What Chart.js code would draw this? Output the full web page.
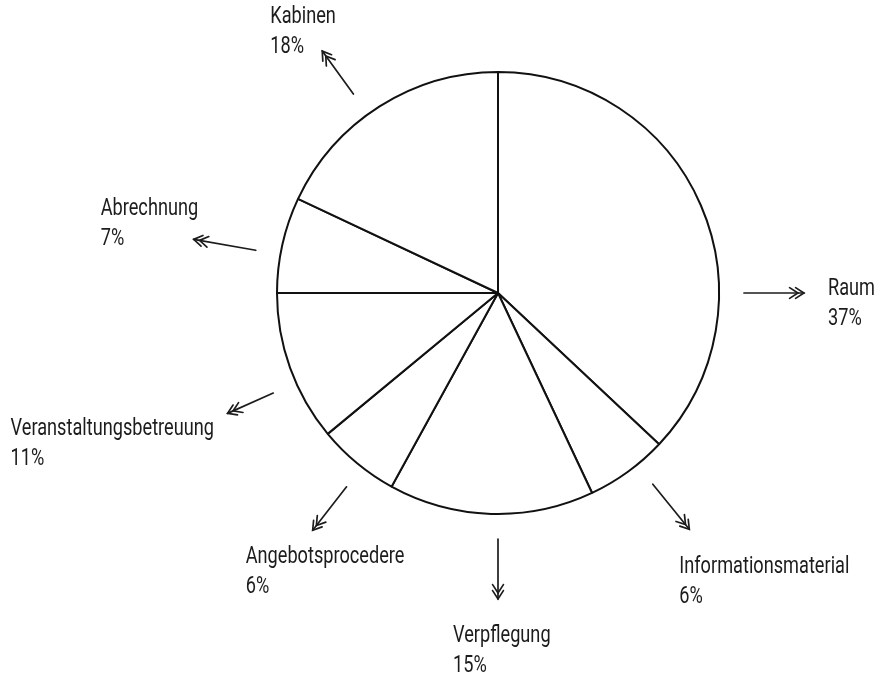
<!DOCTYPE html>
<html>
<head>
<meta charset="utf-8">
<script src="https://cdn.jsdelivr.net/npm/chart.js@4/dist/chart.umd.min.js"></script>
<style>
  html, body { margin: 0; padding: 0; background: #fff; }
  #wrap { width: 878px; height: 674px; }
</style>
</head>
<body>
<div id="wrap"><canvas id="pie"></canvas></div>
<script>
// Anteile im Uhrzeigersinn ab 12 Uhr
const categories = ['Raum', 'Informationsmaterial', 'Verpflegung', 'Angebotsprocedere',
                    'Veranstaltungsbetreuung', 'Abrechnung', 'Kabinen'];
const shares = [37, 6, 15, 6, 11, 7, 18];

// Beschriftung: Richtung des Pfeils (Grad, im Uhrzeigersinn ab 3 Uhr) und Textversatz zur Pfeilspitze
const calloutLayout = [
  { angle: 0,   len: 60, dx: 24,   dy: 2 },
  { angle: 51,  len: 58, dx: -10,  dy: 44 },
  { angle: 90,  len: 60, dx: -45,  dy: 43 },
  { angle: 128, len: 55, dx: -67,  dy: 33 },
  { angle: 156, len: 50, dx: -217, dy: 22 },
  { angle: 190, len: 63, dx: -93,  dy: -24 },
  { angle: 234, len: 53, dx: -52,  dy: -28 }
];

const INK = '#1c1c1c';
const TEXT_SQUEEZE = 0.79; // schmale Schrift nachbilden

// Doppelte offene Pfeilspitze
function chevrons(ctx, x, y, a) {
  const arm = 10, spread = Math.PI / 5.5, gap = 6;
  for (let k = 0; k < 2; k++) {
    const tx = x - Math.cos(a) * gap * k;
    const ty = y - Math.sin(a) * gap * k;
    ctx.beginPath();
    ctx.moveTo(tx - arm * Math.cos(a - spread), ty - arm * Math.sin(a - spread));
    ctx.lineTo(tx, ty);
    ctx.lineTo(tx - arm * Math.cos(a + spread), ty - arm * Math.sin(a + spread));
    ctx.stroke();
  }
}

function narrowText(ctx, str, x, y) {
  ctx.save();
  ctx.translate(x, y);
  ctx.scale(TEXT_SQUEEZE, 1);
  ctx.fillText(str, 0, 0);
  ctx.restore();
}

const calloutPlugin = {
  id: 'callouts',
  afterDatasetsDraw(chart, args, opts) {
    const ctx = chart.ctx;
    const arc = chart.getDatasetMeta(0).data[0];
    const cx = arc.x, cy = arc.y, r = arc.outerRadius;
    ctx.save();
    ctx.strokeStyle = INK;
    ctx.fillStyle = INK;
    ctx.lineWidth = 1.7;
    ctx.lineCap = 'round';
    ctx.font = '23px Roboto, "Liberation Sans", sans-serif';
    ctx.textBaseline = 'alphabetic';
    ctx.textAlign = 'left';
    opts.layout.forEach((l, i) => {
      const a = l.angle * Math.PI / 180;
      const r0 = r + 25, r1 = r0 + l.len;
      const x0 = cx + Math.cos(a) * r0, y0 = cy + Math.sin(a) * r0;
      const x1 = cx + Math.cos(a) * r1, y1 = cy + Math.sin(a) * r1;
      ctx.beginPath();
      ctx.moveTo(x0, y0);
      ctx.lineTo(x1, y1);
      ctx.stroke();
      chevrons(ctx, x1, y1, a);
      const tx = x1 + l.dx, ty = y1 + l.dy;
      narrowText(ctx, categories[i], tx, ty);
      narrowText(ctx, shares[i] + '%', tx, ty + 30);
    });
    ctx.restore();
  }
};

new Chart(document.getElementById('pie'), {
  type: 'pie',
  data: {
    labels: categories,
    datasets: [{
      data: shares,
      backgroundColor: '#fff',
      borderColor: '#111',
      borderWidth: 2,
      hoverOffset: 0
    }]
  },
  options: {
    responsive: true,
    maintainAspectRatio: false,
    animation: false,
    layout: { padding: { left: 276, right: 158, top: 71, bottom: 159 } },
    plugins: {
      legend: { display: false },
      tooltip: { enabled: false },
      callouts: { layout: calloutLayout }
    }
  },
  plugins: [calloutPlugin]
});
</script>
</body>
</html>
